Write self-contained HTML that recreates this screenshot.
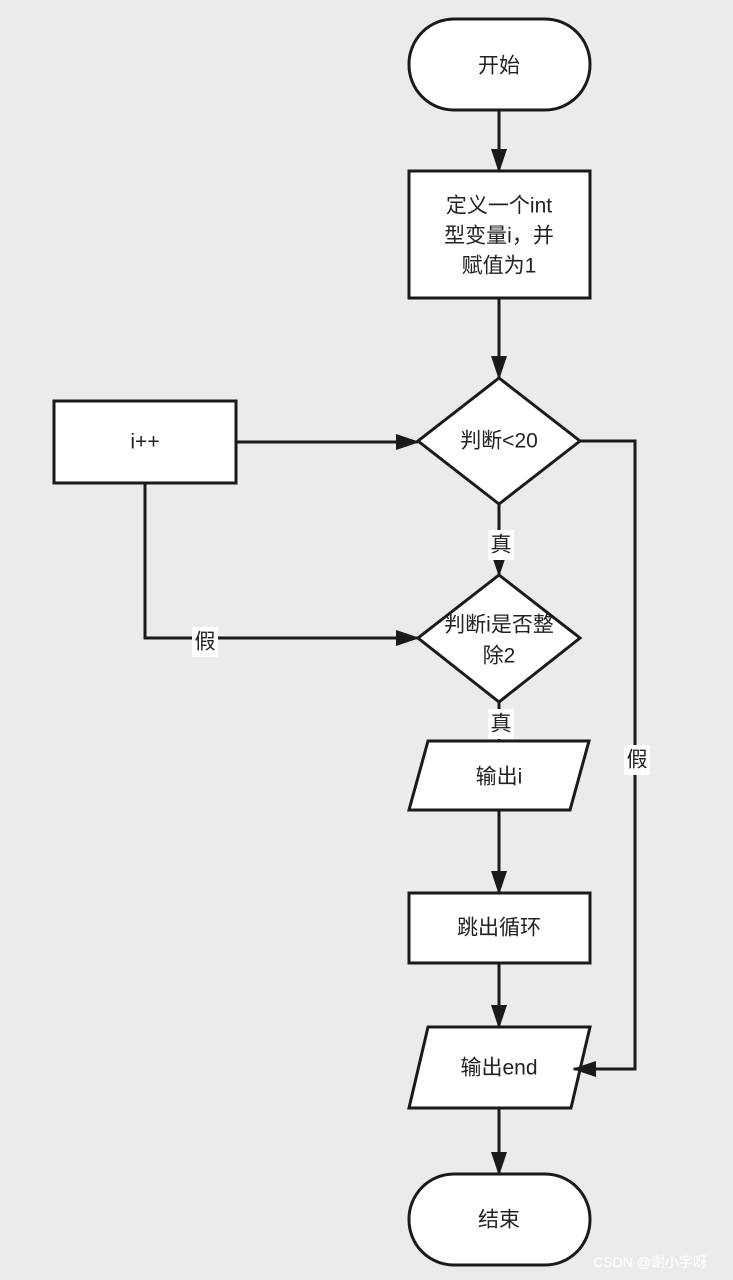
<!DOCTYPE html>
<html><head><meta charset="utf-8"><style>
html,body{margin:0;padding:0;background:#ebebeb;}
svg{display:block;}
text{font-family:"Liberation Sans","Noto Sans CJK SC",sans-serif;font-size:21px;fill:#222;text-anchor:middle;dominant-baseline:central;}
</style></head><body>
<svg width="733" height="1280" viewBox="0 0 733 1280">
<defs><marker id="a" markerWidth="10" markerHeight="10" refX="9" refY="5" orient="auto" markerUnits="userSpaceOnUse" viewBox="0 0 10 10"><path d="M0,0 L10,5 L0,10 z" fill="#1a1a1a"/></marker>
<marker id="b" markerWidth="24" markerHeight="20" refX="22" refY="10" orient="auto" markerUnits="userSpaceOnUse" viewBox="0 0 24 20"><path d="M0,2 L24,10 L0,18 z" fill="#1a1a1a"/></marker></defs>
<rect width="733" height="1280" fill="#ebebeb"/>
<g stroke="#1a1a1a" stroke-width="3" fill="#fff">
<rect x="409" y="19" width="181" height="91" rx="45" ry="45"/>
<rect x="409" y="171" width="181" height="127"/>
<polygon points="499,378 580,441 499,504 418,441"/>
<rect x="54" y="401" width="182" height="82"/>
<polygon points="499,575 580,638 499,702 418,638"/>
<polygon points="428,741 589,741 570,810 409,810"/>
<rect x="409" y="893" width="181" height="70"/>
<polygon points="428,1027 590,1027 571,1108 409,1108"/>
<rect x="409" y="1174" width="181" height="91" rx="45" ry="45"/>
</g>
<g stroke="#1a1a1a" stroke-width="3" fill="none">
<line x1="499" y1="110" x2="499" y2="171" marker-end="url(#b)"/>
<line x1="499" y1="298" x2="499" y2="378" marker-end="url(#b)"/>
<line x1="236" y1="442" x2="418" y2="442" marker-end="url(#b)"/>
<line x1="499" y1="504" x2="499" y2="575" marker-end="url(#b)"/>
<polyline points="145,483 145,638 418,638" marker-end="url(#b)"/>
<line x1="499" y1="702" x2="499" y2="741" marker-end="url(#b)"/>
<line x1="499" y1="810" x2="499" y2="893" marker-end="url(#b)"/>
<line x1="499" y1="963" x2="499" y2="1027" marker-end="url(#b)"/>
<polyline points="580,441 635,441 635,1069 574,1069" marker-end="url(#b)"/>
<line x1="499" y1="1108" x2="499" y2="1174" marker-end="url(#b)"/>
</g>
<g fill="#fff">
<rect x="488" y="530" width="26" height="30"/>
<rect x="488" y="709" width="26" height="30"/>
<rect x="192" y="627" width="26" height="30"/>
<rect x="624" y="745" width="26" height="30"/>
</g>
<text x="499" y="66">开始</text>
<text x="499" y="206">定义一个int</text>
<text x="499" y="236">型变量i，并</text>
<text x="499" y="266">赋值为1</text>
<text x="145" y="442">i++</text>
<text x="499" y="441">判断&lt;20</text>
<text x="501" y="545">真</text>
<text x="499" y="625">判断i是否整</text>
<text x="499" y="656">除2</text>
<text x="501" y="724">真</text>
<text x="205" y="642">假</text>
<text x="637" y="760">假</text>
<text x="499" y="777">输出i</text>
<text x="499" y="928">跳出循环</text>
<text x="499" y="1068">输出end</text>
<text x="499" y="1220">结束</text>
<text x="650" y="1262" style="font-size:14px;fill:#fff;">CSDN @谢小宇呀</text>
</svg>
</body></html>
